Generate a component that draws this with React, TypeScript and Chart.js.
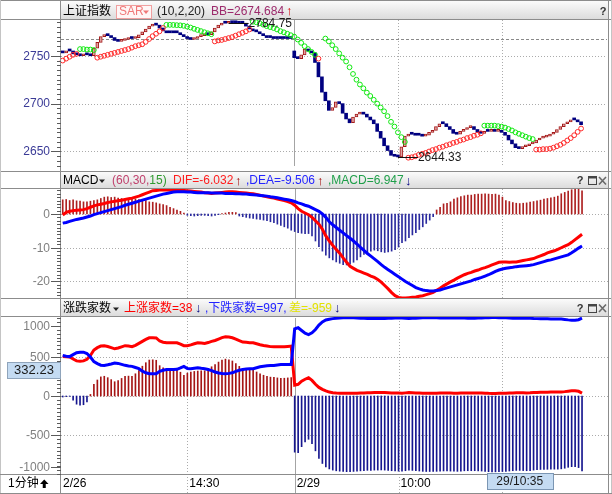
import React, { useEffect, useRef } from "react";
import { Chart, registerables } from "chart.js";

Chart.register(...registerables);

const _ = null;

// ---------------- categories (1-minute bars) ----------------
const sessions = [
  { date: "2/26", start: "13:54", bars: 67 },
  { date: "2/29", start: "09:30", bars: 91 },
];
const categories: string[] = [];
for (const s of sessions) {
  const [h, m] = s.start.split(":").map(Number);
  for (let k = 0; k < s.bars; k++) {
    const t = h * 60 + m + k;
    categories.push(
      `${s.date} ${String(Math.floor(t / 60)).padStart(2, "0")}:${String(t % 60).padStart(2, "0")}`
    );
  }
}

// ---------------- 上证指数 closes ----------------
const closes = [
  2753, 2755, 2755, 2752, 2751, 2750, 2751, 2751, 2750, 2758,
  2764, 2770, 2771, 2771, 2769, 2766, 2765, 2766, 2767, 2768,
  2768, 2769, 2772, 2775, 2778, 2781, 2782, 2782, 2779, 2776,
  2774, 2774, 2774, 2774, 2772, 2770, 2768, 2767, 2768, 2770,
  2771, 2772, 2772, 2775, 2779, 2782, 2784, 2784, 2784.75, 2784.5,
  2784.5, 2784, 2784, 2781, 2778, 2776, 2775, 2773, 2771, 2769,
  2769, 2768, 2768, 2768, 2768, 2768, 2768,
  2748, 2747, 2751,
  2757, 2755, 2753, 2743, 2728, 2712, 2703, 2693, 2696, 2702,
  2700, 2690, 2684, 2680, 2686, 2689, 2690, 2689, 2686, 2683,
  2679, 2671, 2664, 2656, 2651, 2646, 2645, 2644.33, 2655, 2666,
  2668, 2668, 2667, 2667, 2666, 2667, 2670, 2672, 2676, 2679,
  2679, 2676, 2673, 2669, 2668, 2671, 2673, 2675, 2676, 2673,
  2670, 2669, 2671, 2671, 2672, 2671, 2672, 2670, 2667, 2662,
  2658, 2654, 2653, 2655, 2656, 2658, 2659, 2662, 2664, 2665,
  2666, 2668, 2670, 2673, 2676, 2679, 2681, 2683, 2683, 2681, 2678,
];
const day2Index = 67;
const day2Open = 2755;
const prevClose = 2768;

// SAR below price (red) and above price (green)
const sarRise = [
  2745, 2747, 2749, 2751, 2752,
  _, _, _, _, _,
  2748, 2749, 2750, 2751, 2752, 2753, 2754, 2755, 2756, 2757,
  2758.5, 2760, 2761, 2762, 2764.5, 2767.5, 2770.5, 2773, 2775.5, 2779,
  _, _, _, _, _, _, _, _, _, _, _, _, _, _,
  2765, 2766, 2766.5, 2767.5, 2768.5, 2769.5, 2771, 2772.5, 2774, 2775.5, 2777.5,
  _, _, _, _, _, _, _, _, _, _, _, _, _, _, _, _, _, _, _,
  2747,
  _, _, _, _, _, _, _, _, _, _, _, _, _, _, _, _, _, _, _, _, _, _, _, _, _,
  2643.5, 2644, 2645, 2646.5, 2647.5, 2648.5, 2650, 2651.5, 2652.5, 2654,
  2655, 2656.5, 2657.5, 2659, 2660, 2661.5, 2662.5, 2664, 2665, 2666.5,
  2667.5, 2669,
  _, _, _, _, _, _, _, _, _, _, _, _, _, _, _,
  2652, 2652, 2652.5, 2652.5, 2653, 2654, 2655.5, 2657, 2659, 2661.5, 2664, 2667, 2670.5, 2674,
];
const sarFall = [
  _, _, _, _, _,
  2757, 2757, 2756.5, 2756.5, 2756,
  _, _, _, _, _, _, _, _, _, _, _, _, _, _, _, _, _, _, _, _,
  2782.3, 2782.3, 2782.2, 2782, 2781.8, 2781.3, 2780.5, 2779.5, 2778.2, 2777, 2775.8, 2774.6, 2773.5, 2772.5,
  _, _, _, _, _, _, _, _, _, _, _,
  2785.5, 2785, 2784, 2782.5, 2781, 2780, 2779, 2777.5, 2775.7, 2774.5,
  2773, 2771.5, 2770, 2767, 2763.5, 2760, 2757, 2754, 2751,
  _, _,
  2768, 2765, 2761, 2757, 2752.5, 2748, 2744, 2738, 2731, 2725, 2720, 2716,
  2711.5, 2708, 2704, 2700, 2696, 2692, 2687, 2681, 2676, 2670, 2665, 2660,
  _, _, _, _, _, _, _, _, _, _, _, _, _, _, _, _, _, _, _, _, _, _,
  2677, 2677, 2677, 2677, 2676.5, 2676, 2675, 2673.5, 2672, 2670, 2668.5, 2667, 2665.5, 2664, 2663,
  _, _, _, _, _, _, _, _, _, _, _, _, _, _,
];

// ---------------- MACD ----------------
const dif = [
  -0.3, 0.5, 0.8, 1.0, 1.1, 1.2, 1.3, 1.6, 2.0, 2.4,
  2.7, 2.9, 3.1, 3.4, 3.6, 3.8, 3.9, 4.1, 4.3, 4.5,
  4.7, 5.0, 5.3, 5.7, 6.1, 6.5, 6.9, 7.0, 7.1, 7.1,
  7.1, 7.1, 7.1, 7.1, 7.1, 7.0, 6.9, 6.8, 6.7, 6.6,
  6.5, 6.3, 6.2, 6.1, 6.2, 6.3, 6.4, 6.5, 6.6, 6.6,
  6.5, 6.4, 6.3, 6.2, 6.1, 6.0, 5.8, 5.6, 5.3, 5.1,
  4.9, 4.7, 4.4, 4.2, 4.0, 3.7, 3.3, 2.6, 1.6, 0.8,
  0.3, -0.2, -1.0, -2.0, -3.0, -4.5, -6.5, -8.0, -9.3, -10.5,
  -11.6, -13.0, -14.3, -15.5, -16.1, -16.7, -17.1, -17.5, -17.9, -18.4,
  -18.8, -19.4, -20.2, -21.2, -22.2, -23.3, -24.2, -24.7, -24.9, -24.9,
  -24.8, -24.7, -24.6, -24.4, -24.2, -23.9, -23.6, -23.2, -22.6, -22.0,
  -21.3, -20.7, -20.1, -19.6, -19.0, -18.5, -18.0, -17.6, -17.3, -16.9,
  -16.6, -16.2, -15.9, -15.5, -15.1, -14.7, -14.3, -14.2, -14.2, -14.3,
  -14.2, -14.2, -14.0, -13.8, -13.6, -13.4, -13.2, -12.8, -12.4, -12.0,
  -11.5, -11.2, -10.9, -10.5, -10.0, -9.5, -9.1, -8.4, -7.6, -6.8, -6.0,
];
const dea = [
  -2.7, -2.5, -2.2, -1.9, -1.6, -1.4, -1.2, -0.9, -0.6, -0.2,
  0.1, 0.4, 0.7, 1.0, 1.3, 1.6, 1.9, 2.2, 2.6, 2.9,
  3.2, 3.5, 3.8, 4.1, 4.4, 4.7, 5.0, 5.3, 5.6, 5.9,
  6.1, 6.3, 6.5, 6.6, 6.6, 6.6, 6.5, 6.5, 6.4, 6.3,
  6.3, 6.3, 6.3, 6.2, 6.2, 6.2, 6.2, 6.1, 6.1, 6.1,
  6.0, 6.0, 5.9, 5.9, 5.8, 5.7, 5.6, 5.5, 5.4, 5.3,
  5.1, 5.0, 4.8, 4.6, 4.4, 4.2, 4.0, 3.7, 3.3, 3.0,
  2.6, 2.3, 1.8, 1.3, 0.8, 0.0, -1.0, -2.3, -3.2, -4.0,
  -4.8, -5.6, -6.4, -7.2, -8.0, -8.9, -9.9, -10.8, -11.7, -12.5,
  -13.3, -14.1, -15.0, -15.8, -16.5, -17.2, -17.9, -18.6, -19.3, -20.0,
  -20.6, -21.2, -21.8, -22.2, -22.5, -22.7, -22.8, -22.8, -22.7, -22.5,
  -22.2, -21.9, -21.6, -21.3, -21.0, -20.7, -20.4, -20.1, -19.8, -19.4,
  -19.1, -18.8, -18.4, -18.0, -17.5, -17.0, -16.6, -16.3, -16.1, -15.9,
  -15.8, -15.6, -15.5, -15.4, -15.3, -15.2, -15.0, -14.7, -14.4, -14.1,
  -13.8, -13.6, -13.3, -13.0, -12.7, -12.4, -12.1, -11.5, -10.8, -10.1, -9.5,
];
const macdHist = [
  4.2, 4.3, 4.0, 4.2, 3.9, 3.8, 3.6,
  3.6, 3.8, 4.0, 4.2,
  4.6, 5.0, 5.1, 4.9, 5.0, 4.7,
  4.6, 4.5, 4.6, 4.4, 4.5, 4.3, 4.2, 4.0,
  3.6, 3.5, 3.3, 3.0, 2.8, 2.5,
  2.0, 1.6, 1.2, 0.8, 0.3,
  -0.4, -0.5, -0.6, -0.5, -0.4, -0.4, -0.5, -0.6, -0.4, -0.2, 0.1, 0.3,
  0.5, 0.5, 0.4,
  -0.6, -0.8, -1.0, -1.2, -1.3, -1.5, -1.6, -1.8,
  -2.0, -2.3, -2.6, -3.0, -3.4, -3.8, -4.2, -4.8,
  -5.2, -5.5, -5.7, -5.8, -5.8, -6.5, -8.0,
  -9.7, -11.0, -12.2, -13.0,
  -13.6, -14.2, -14.6, -15.0, -15.1, -14.8, -14.3, -13.6,
  -12.7, -12.0, -11.5, -11.0, -10.7, -10.9,
  -11.2, -11.4, -11.2, -11.0, -10.6, -9.8,
  -8.5, -8.0, -7.0,
  -6.2, -5.5, -4.6,
  -3.8, -2.8, -1.8, -0.8,
  1.2, 2.0,
  3.0, 3.2, 3.6,
  4.4, 4.8, 5.2, 5.4, 5.6, 5.6,
  5.8, 5.9, 5.9, 6.0, 5.9, 5.8, 5.9, 5.6, 5.0,
  4.0, 3.7,
  3.4, 3.2, 3.1, 3.2, 3.3, 3.5,
  3.7, 3.9, 4.1, 4.4, 4.6, 4.8, 5.0, 5.3,
  6.0, 6.4, 6.8, 7.2, 7.6, 7.6, 6.9,
];

// ---------------- 涨跌家数 ----------------
const upCount = [
  505, 502, 500, 475, 450, 445, 450, 470, 520, 590,
  620, 640, 645, 635, 620, 605, 615, 630, 645, 640,
  632, 650, 675, 700, 725, 746, 748, 744, 705, 690,
  682, 682, 682, 682, 665, 645, 645, 655, 670, 682,
  678, 673, 685, 700, 712, 730, 748, 758, 755, 746,
  730, 710, 692, 688, 684, 682, 670, 658, 648, 640,
  633, 630, 630, 630, 632, 636, 640,
  140, 150, 190, 215, 233, 200, 150, 110, 85, 65, 50, 42, 38,
  36, 35, 34, 34, 35, 36, 38, 40, 42, 42,
  44, 44, 45, 44, 42, 40, 38, 37, 36, 40,
  44, 42, 40, 38, 36, 35, 35, 36, 36, 37,
  38, 38, 37, 36, 36, 38, 40, 40, 40, 40,
  39, 38, 36, 34, 33, 33, 34, 35, 36, 38,
  40, 42, 42, 41, 40, 41, 44, 46, 48, 48,
  49, 50, 50, 50, 52, 56, 62, 66, 66, 60, 38,
];
const downCount = [
  518, 510, 505, 530, 555, 562, 562, 545, 500, 440,
  415, 395, 392, 400, 410, 422, 418, 405, 393, 385,
  380, 365, 350, 318, 298, 285, 284, 286, 316, 330,
  340, 340, 340, 342, 360, 380, 352, 348, 355, 362,
  355, 350, 340, 325, 308, 295, 288, 285, 290, 297,
  315, 330, 340, 345, 348, 350, 362, 375, 382, 388,
  391, 392, 398, 403, 404, 404, 404,
  860, 875, 840, 805, 788, 810, 853, 910, 950, 975, 985, 992, 997,
  1000, 1002, 1004, 1004, 1002, 1000, 998, 996, 995, 995,
  994, 994, 993, 994, 996, 998, 1000, 1001, 1001, 998,
  994, 996, 998, 1000, 1002, 1003, 1003, 1002, 1002, 1000,
  999, 999, 1000, 1001, 1002, 1001, 999, 998, 998, 998,
  999, 1000, 1002, 1004, 1005, 1005, 1004, 1003, 1002, 1000,
  998, 996, 996, 997, 998, 997, 994, 992, 990, 990,
  989, 988, 988, 988, 986, 982, 976, 972, 972, 978, 997,
];

// ---------------- axes ----------------
const priceTicks = [2750, 2700, 2650];
const macdTicks = [0, -10, -20];
const breadthTicks = [1000, 500, 0, -500, -1000];
const timeMarks = [
  { index: 0, label: "2/26", kind: "none" },
  { index: 36, label: "14:30", kind: "dotted" },
  { index: 67, label: "2/29", kind: "solid" },
  { index: 97, label: "10:00", kind: "dotted" },
  { index: 127, label: "", kind: "dotted" },
];
const cursorIndex = 132;
const cursorLabel = "29/10:35";
const cursorValue = 332.23;

// ---------------- drawing helpers ----------------
const W = 612;
const LEFT = 61;
const RIGHT = 608;
const FONT = '12px "Liberation Sans", Arial, sans-serif';
const FONT13 = '13px "Liberation Sans", Arial, sans-serif';
const FONT_CJK = '12px "Liberation Sans", "Noto Sans CJK SC", sans-serif';
const ARROW_FONT = '13px "Liberation Sans", "DejaVu Sans", sans-serif';
const FRAME = "#8c8c8c";
const GRID = "#ababab";

function hl(ctx: any, x1: number, x2: number, y: number) {
  ctx.beginPath();
  ctx.moveTo(x1, y);
  ctx.lineTo(x2, y);
  ctx.stroke();
}
function vl(ctx: any, x: number, y1: number, y2: number) {
  ctx.beginPath();
  ctx.moveTo(x, y1);
  ctx.lineTo(x, y2);
  ctx.stroke();
}
function txt(ctx: any, s: string, x: number, y: number, color: string, font = FONT, align = "left") {
  ctx.font = font;
  ctx.fillStyle = color;
  ctx.textAlign = align;
  ctx.textBaseline = "middle";
  ctx.fillText(s, x, y);
}
function tri(ctx: any, x: number, y: number, color: string) {
  ctx.fillStyle = color;
  ctx.beginPath();
  ctx.moveTo(x, y);
  ctx.lineTo(x + 6, y);
  ctx.lineTo(x + 3, y + 3.5);
  ctx.closePath();
  ctx.fill();
}
function icons(ctx: any, y: number, withWin: boolean) {
  txt(ctx, "?", withWin ? 580 : 603, y, "#333", 'bold 11px "Liberation Sans", Arial, sans-serif', "center");
  if (!withWin) return;
  ctx.strokeStyle = "#444";
  ctx.lineWidth = 1;
  ctx.strokeRect(588.5, Math.round(y) - 4.5, 8, 8);
  ctx.fillStyle = "#444";
  ctx.fillRect(588, Math.round(y) - 5, 9, 2.5);
  ctx.strokeStyle = "#6a6a6a";
  ctx.lineWidth = 1.6;
  ctx.beginPath();
  ctx.moveTo(599, y - 4);
  ctx.lineTo(606, y + 3.5);
  ctx.moveTo(606, y - 4);
  ctx.lineTo(599, y + 3.5);
  ctx.stroke();
}

function headerPrice(ctx: any) {
  const y = 12;
  txt(ctx, "上证指数", 63, y, "#000", FONT_CJK);
  ctx.fillStyle = "#fff6f6";
  ctx.fillRect(116.5, 5.5, 35, 13);
  ctx.strokeStyle = "#f0a0a0";
  ctx.lineWidth = 1;
  ctx.strokeRect(116.5, 5.5, 35, 13);
  txt(ctx, "SAR", 119, y, "#f07878");
  tri(ctx, 143, 10.5, "#f07878");
  txt(ctx, "(10,2,20)", 157, y, "#222");
  txt(ctx, "BB=2674.684", 211, y, "#9c2a6c");
  txt(ctx, "↑", 286, y - 0.5, "#d40000", ARROW_FONT);
  icons(ctx, y, false);
}
function headerMacd(ctx: any) {
  const y = 10;
  txt(ctx, "MACD", 63, y, "#000");
  tri(ctx, 99, 8.5, "#222");
  txt(ctx, "(60,30,", 112, y, "#c0406c");
  ctx.font = FONT;
  const w = ctx.measureText("(60,30,").width;
  txt(ctx, "15)", 112 + w, y, "#2f9a2f");
  txt(ctx, "DIF=-6.032", 173, y, "#ff1c1c");
  txt(ctx, "↑", 235, y, "#a00000", ARROW_FONT);
  txt(ctx, ",DEA=-9.506", 246, y, "#2424ff");
  txt(ctx, "↑", 317, y, "#a00000", ARROW_FONT);
  txt(ctx, ",MACD=6.947", 328, y, "#1f9f4a");
  txt(ctx, "↓", 405, y, "#000080", ARROW_FONT);
  icons(ctx, y, true);
}
function headerBreadth(ctx: any) {
  const y = 10.5;
  txt(ctx, "涨跌家数", 63, y, "#000", FONT_CJK);
  tri(ctx, 113, 9.5, "#222");
  txt(ctx, "上涨家数=38", 124, y, "#ff0000", FONT_CJK);
  txt(ctx, "↓", 195, y, "#000080", ARROW_FONT);
  txt(ctx, ",下跌家数=997,", 205, y, "#2424ff", FONT_CJK);
  txt(ctx, "差=-959", 289, y, "#e2e200", FONT_CJK);
  txt(ctx, "↓", 334, y, "#000080", ARROW_FONT);
  icons(ctx, y, true);
}

function priceExtra(chart: any) {
  const { ctx } = chart;
  const xs = chart.scales.x;
  const ys = chart.scales.y;
  const hi = Math.max(...closes);
  const lo = Math.min(...closes);
  for (const v of [hi, lo]) {
    const idx = closes.indexOf(v);
    const px = xs.getPixelForValue(idx);
    const py = Math.round(ys.getPixelForValue(v)) + 0.5;
    ctx.strokeStyle = "#111";
    ctx.lineWidth = 1;
    hl(ctx, px, px + 20, py);
    txt(ctx, v.toFixed(2), px + 20, py, "#1a1a1a");
  }
}

function breadthExtra(chart: any) {
  const { ctx, chartArea: a } = chart;
  const xs = chart.scales.x;
  const ys = chart.scales.y;
  const rowY = a.bottom + 10;
  txt(ctx, "1分钟", 8, rowY, "#000", FONT_CJK);
  ctx.fillStyle = "#000";
  ctx.beginPath();
  ctx.moveTo(40, rowY);
  ctx.lineTo(48.5, rowY);
  ctx.lineTo(44.25, rowY - 4.5);
  ctx.closePath();
  ctx.fill();
  ctx.fillRect(42.75, rowY, 3, 4);
  for (const m of timeMarks) {
    if (!m.label) continue;
    const px = m.index === 0 ? a.left + 2 : xs.getPixelForValue(m.index) + 2;
    txt(ctx, m.label, px, rowY, "#000");
  }
  const cx = xs.getPixelForValue(cursorIndex);
  const bx = Math.round(cx - 33) + 0.5;
  ctx.fillStyle = "#c4dbf2";
  ctx.fillRect(bx, a.bottom - 0.5, 66, 16);
  ctx.strokeStyle = "#7b96b3";
  ctx.lineWidth = 1;
  ctx.strokeRect(bx, a.bottom - 0.5, 66, 16);
  txt(ctx, cursorLabel, cx, a.bottom + 7.5, "#1a1a1a", FONT, "center");
  const vy = Math.round(ys.getPixelForValue(cursorValue));
  ctx.fillStyle = "#c4dbf2";
  ctx.fillRect(7.5, vy - 7.5, 53, 16);
  ctx.strokeStyle = "#8fa4bb";
  ctx.strokeRect(7.5, vy - 7.5, 53, 16);
  txt(ctx, cursorValue.toFixed(2), 34, vy + 0.5, "#1a1a1a", FONT13, "center");
}

function panelPlugin(spec: any) {
  return {
    id: spec.id,
    beforeDatasetsDraw(chart: any) {
      const { ctx, chartArea: a } = chart;
      const xs = chart.scales.x;
      const ys = chart.scales.y;
      ctx.save();
      const g = ctx.createLinearGradient(0, 1, 0, spec.headerH);
      g.addColorStop(0, "#fbfbfb");
      g.addColorStop(1, "#dcdcdc");
      ctx.fillStyle = g;
      ctx.fillRect(LEFT, 1, RIGHT - LEFT, spec.headerH - 0.5);
      ctx.lineWidth = 1;
      ctx.strokeStyle = GRID;
      ctx.setLineDash([1, 2]);
      for (const v of spec.gridValues) hl(ctx, a.left, a.right, Math.round(ys.getPixelForValue(v)) + 0.5);
      if (spec.refLine != null) {
        ctx.strokeStyle = "#8a8a8a";
        ctx.setLineDash([3, 2]);
        hl(ctx, a.left, a.right, Math.round(ys.getPixelForValue(spec.refLine)) + 0.5);
      }
      const vb = spec.axisRow ? chart.height : a.bottom;
      for (const m of timeMarks) {
        if (m.kind === "none") continue;
        const px = Math.round(xs.getPixelForValue(m.index)) + 0.5;
        if (m.kind === "solid") {
          ctx.setLineDash([]);
          ctx.strokeStyle = "#a4a4a4";
        } else {
          ctx.setLineDash([1, 2]);
          ctx.strokeStyle = GRID;
        }
        vl(ctx, px, a.top, vb);
      }
      ctx.restore();
    },
    afterDatasetsDraw(chart: any) {
      const { ctx, chartArea: a } = chart;
      const ys = chart.scales.y;
      const H = chart.height;
      ctx.save();
      ctx.setLineDash([]);
      ctx.lineWidth = 1;
      ctx.strokeStyle = FRAME;
      hl(ctx, 0, W, 0.5);
      hl(ctx, 0, W, spec.headerH + 0.5);
      vl(ctx, LEFT - 0.5, 0, H);
      vl(ctx, RIGHT + 0.5, 0, H);
      ctx.strokeStyle = "#c4c4c4";
      vl(ctx, 0.5, 0, H);
      vl(ctx, W - 0.5, 0, H);
      ctx.strokeStyle = FRAME;
      if (spec.axisRow) {
        hl(ctx, 0, W, a.bottom + 0.5);
        hl(ctx, 0, W, H - 0.5);
      }
      // minor ticks
      ctx.strokeStyle = "#5a5a5a";
      const step = spec.minorStep;
      for (let v = Math.ceil(ys.min / step) * step; v <= ys.max; v += step) {
        hl(ctx, LEFT - 4, LEFT, Math.round(ys.getPixelForValue(v)) + 0.5);
      }
      // major ticks + labels
      for (const v of spec.ticks) {
        let py = ys.getPixelForValue(v);
        if (spec.clamp) py = Math.min(Math.max(py, a.top + 8), a.bottom - 7);
        ctx.strokeStyle = "#5a5a5a";
        hl(ctx, LEFT - 10, LEFT, Math.round(py) + 0.5);
        txt(ctx, String(v), 50, py + 0.5, spec.labelColor, FONT, "right");
      }
      spec.header(ctx);
      if (spec.extra) spec.extra(chart);
      ctx.restore();
    },
  };
}

function baseOptions(padTop: number, padBottom: number, yMin: number, yMax: number) {
  return {
    responsive: false,
    animation: false,
    devicePixelRatio: 1,
    events: [],
    layout: { padding: { left: LEFT, right: W - RIGHT, top: padTop, bottom: padBottom } },
    plugins: { legend: { display: false }, tooltip: { enabled: false }, title: { display: false } },
    scales: {
      x: { type: "category", display: false, offset: true, grid: { display: false } },
      y: { type: "linear", display: false, min: yMin, max: yMax },
    },
  };
}

function priceConfig(): any {
  const priceBars = closes.map((c, i) => [i === day2Index ? day2Open : i === 0 ? c : closes[i - 1], c]);
  const rising = priceBars.map(([o, c]) => c > o);
  const sarStyle = (color: string) => ({
    type: "line",
    showLine: false,
    pointRadius: 2.4,
    pointStyle: "circle",
    pointBorderColor: color,
    pointBackgroundColor: "rgba(255,255,255,0)",
    pointBorderWidth: 1,
    clip: 4,
    order: 0,
  });
  return {
    type: "bar",
    data: {
      labels: categories,
      datasets: [
        { ...sarStyle("#ff2a2a"), data: sarRise },
        { ...sarStyle("#10e810"), data: sarFall },
        {
          type: "bar",
          data: priceBars,
          barThickness: 3,
          minBarLength: 2,
          borderSkipped: false,
          backgroundColor: rising.map((u) => (u ? "#e3a2a2" : "#000080")),
          borderColor: rising.map((u) => (u ? "#a31818" : "#000080")),
          borderWidth: rising.map((u) => (u ? 1 : 0)),
          order: 1,
        },
      ],
    },
    options: baseOptions(20, 0, 2634.85, 2787.37),
    plugins: [
      panelPlugin({
        id: "pricePanel",
        headerH: 19,
        ticks: priceTicks,
        minorStep: 5,
        labelColor: "#3a3a96",
        gridValues: priceTicks,
        refLine: prevClose,
        header: headerPrice,
        extra: priceExtra,
      }),
    ],
  };
}

function macdConfig(): any {
  return {
    type: "bar",
    data: {
      labels: categories,
      datasets: [
        { type: "line", data: dea, borderColor: "#0000ff", borderWidth: 3, pointRadius: 0, tension: 0, clip: 3, order: 0 },
        { type: "line", data: dif, borderColor: "#ff0000", borderWidth: 3, pointRadius: 0, tension: 0, clip: 3, order: 1 },
        {
          type: "bar",
          data: macdHist,
          barThickness: 1,
          backgroundColor: macdHist.map((v) => (v >= 0 ? "#ad2020" : "#2a2a9e")),
          order: 2,
        },
      ],
    },
    options: baseOptions(18, 0, -24.89, 7.41),
    plugins: [
      panelPlugin({
        id: "macdPanel",
        headerH: 17,
        ticks: macdTicks,
        minorStep: 1,
        labelColor: "#808080",
        gridValues: macdTicks,
        header: headerMacd,
      }),
    ],
  };
}

function breadthConfig(): any {
  const net = upCount.map((u, i) => u - downCount[i]);
  return {
    type: "bar",
    data: {
      labels: categories,
      datasets: [
        { type: "line", data: downCount, borderColor: "#0000ff", borderWidth: 3, pointRadius: 0, tension: 0, clip: 3, order: 0 },
        { type: "line", data: upCount, borderColor: "#ff0000", borderWidth: 3, pointRadius: 0, tension: 0, clip: 3, order: 1 },
        {
          type: "bar",
          data: net,
          barThickness: 1,
          backgroundColor: net.map((v) => (v >= 0 ? "#a51515" : "#16168f")),
          order: 2,
        },
      ],
    },
    options: baseOptions(20, 20, -1000, 1000),
    plugins: [
      panelPlugin({
        id: "breadthPanel",
        headerH: 18,
        ticks: breadthTicks,
        minorStep: 50,
        labelColor: "#808080",
        gridValues: [500, 0, -500],
        clamp: true,
        axisRow: true,
        header: headerBreadth,
        extra: breadthExtra,
      }),
    ],
  };
}

export default function App() {
  const c1 = useRef<HTMLCanvasElement>(null);
  const c2 = useRef<HTMLCanvasElement>(null);
  const c3 = useRef<HTMLCanvasElement>(null);
  useEffect(() => {
    const charts = [
      new Chart(c1.current as HTMLCanvasElement, priceConfig()),
      new Chart(c2.current as HTMLCanvasElement, macdConfig()),
      new Chart(c3.current as HTMLCanvasElement, breadthConfig()),
    ];
    return () => charts.forEach((c) => c.destroy());
  }, []);
  const pos = (top: number): any => ({ position: "absolute", left: 0, top, display: "block" });
  return (
    <div style={{ position: "fixed", left: 0, top: 0, width: 612, height: 494, background: "#fff", overflow: "hidden" }}>
      <canvas ref={c1} width={612} height={171} style={pos(0)} />
      <canvas ref={c2} width={612} height={127} style={pos(171)} />
      <canvas ref={c3} width={612} height={196} style={pos(298)} />
    </div>
  );
}
